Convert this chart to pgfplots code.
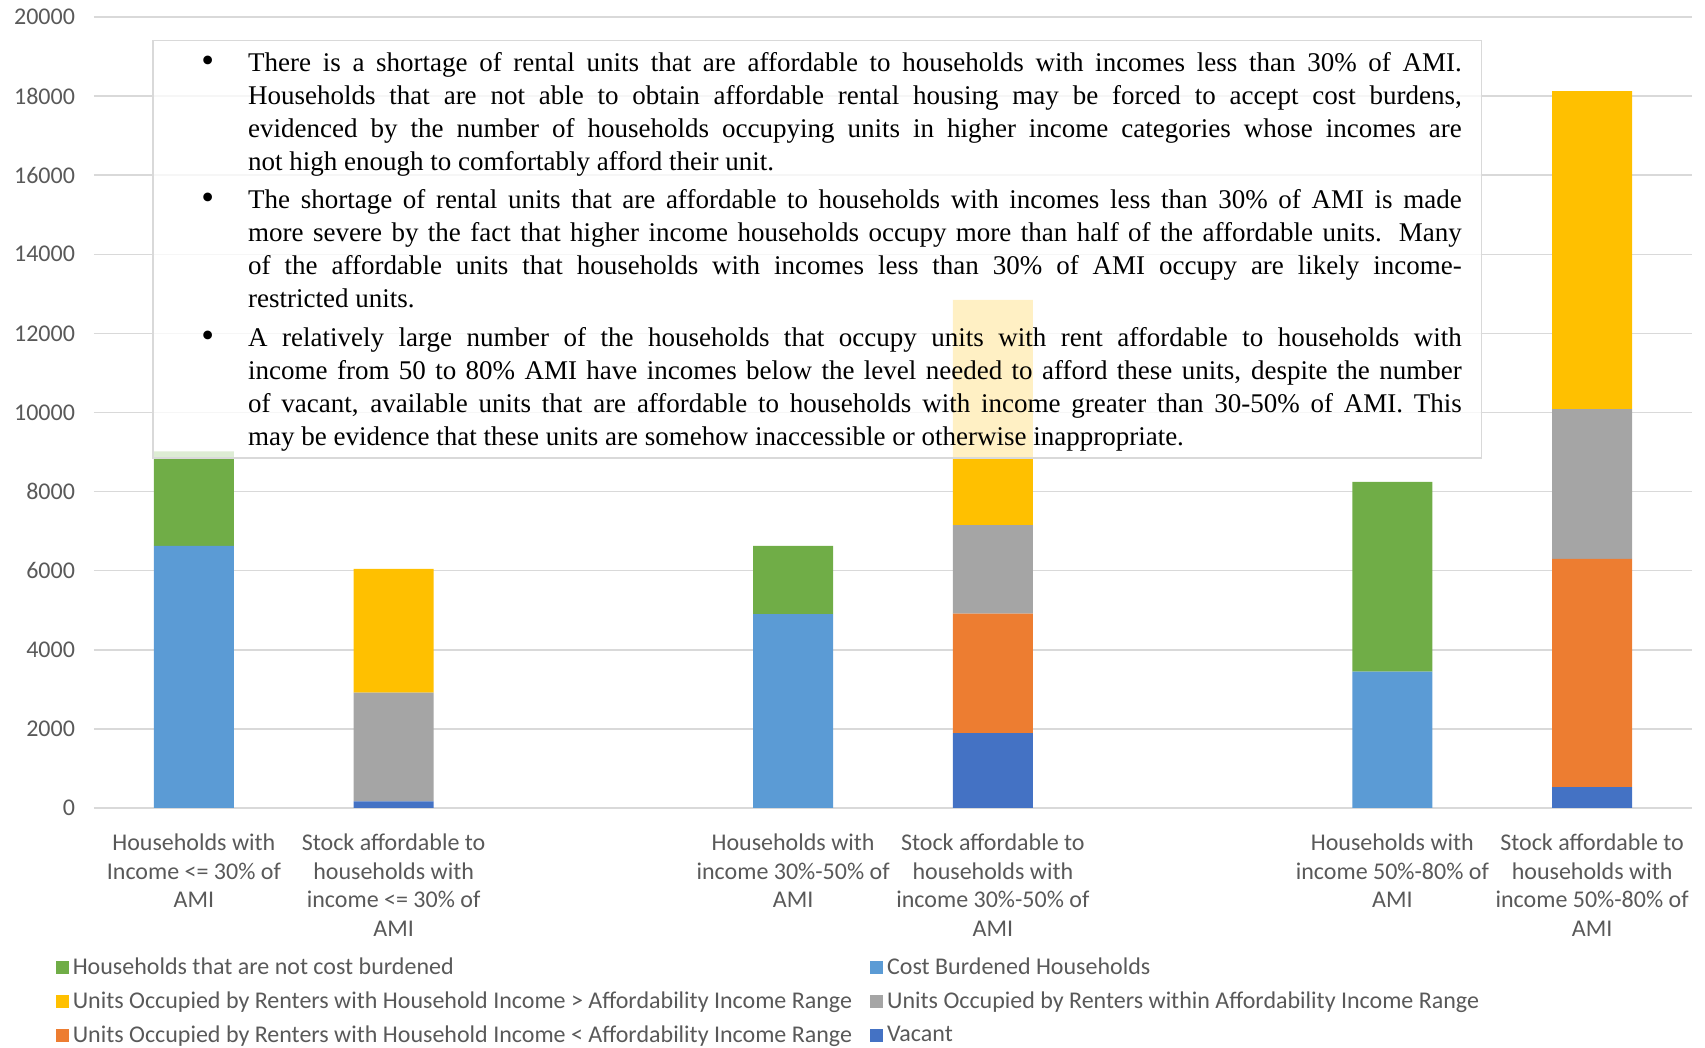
\documentclass[border=0pt]{standalone}
\usepackage{fontspec}
\setmainfont{Carlito}
\newfontfamily\boxfont{Liberation Serif}
\usepackage{pgfplots}
\pgfplotsset{compat=1.18}
\usepackage{pgfplotstable}

\definecolor{cVac}{HTML}{4472C4}
\definecolor{cLow}{HTML}{ED7D31}
\definecolor{cWith}{HTML}{A5A5A5}
\definecolor{cHigh}{HTML}{FFC000}
\definecolor{cBurd}{HTML}{5B9BD5}
\definecolor{cNotB}{HTML}{70AD47}
\definecolor{txtgray}{HTML}{595959}
\definecolor{gridgray}{HTML}{D9D9D9}

\pgfplotstableread{
x vac low within high burd notb
0 0    0    0    0    6630 2390
1 170  0    2745 3130 0    0
3 0    0    0    0    4900 1730
4 1895 3020 2235 5700 0    0
6 0    0    0    0    3445 4800
7 530  5770 3785 8040 0    0
}\datatable

\newcommand\bul{\leavevmode\llap{\raisebox{-0.5pt}{\scalebox{1.35}{\textbullet}}\hspace{17pt}}}

\begin{document}
\begin{tikzpicture}
\begin{axis}[
  at={(0,0)}, anchor=south west,
  width=799pt, height=395.5pt, scale only axis,
  xmin=-0.5, xmax=7.5, ymin=0, ymax=20000,
  ybar stacked, bar width=40pt,
  xtick={0,1,3,4,6,7},
  xticklabels={{Households with\\Income <= 30\% of\\AMI},
               {Stock affordable to\\households with\\income <= 30\% of\\AMI},
               {Households with\\income 30\%-50\% of\\AMI},
               {Stock affordable to\\households with\\income 30\%-50\% of\\AMI},
               {Households with\\income 50\%-80\% of\\AMI},
               {Stock affordable to\\households with\\income 50\%-80\% of\\AMI}},
  xticklabel style={align=center, font=\fontsize{12}{14.4}\selectfont, text=txtgray, yshift=-9.3pt},
  ytick={0,2000,...,20000},
  scaled y ticks=false,
  yticklabel style={font=\fontsize{12}{14.4}\selectfont, text=txtgray, xshift=-6pt,
     /pgf/number format/assume math mode=true, /pgf/number format/1000 sep={}},
  ymajorgrids, grid style={draw=gridgray, line width=0.75pt},
  axis line style={draw=none},
  major tick length=0pt,
  reverse legend,
  legend columns=2,
  legend style={at={(0,0)}, anchor=north west, xshift=-19.3pt, yshift=-72.7pt,
     draw=none, fill=none, font=\fontsize{12}{14.4}\selectfont, text=txtgray,
     row sep=3.2pt, inner sep=0pt,
     /tikz/every even column/.append style={column sep=7pt}},
  legend cell align=left,
  legend image code/.code={\fill[#1] (0pt,-3.25pt) rectangle (6.5pt,3.25pt);},
]
\addplot[fill=cVac, draw=none] table[x=x,y=vac] {\datatable};
\addplot[fill=cLow, draw=none] table[x=x,y=low] {\datatable};
\addplot[fill=cWith, draw=none] table[x=x,y=within] {\datatable};
\addplot[fill=cHigh, draw=none] table[x=x,y=high] {\datatable};
\addplot[fill=cBurd, draw=none] table[x=x,y=burd] {\datatable};
\addplot[fill=cNotB, draw=none] table[x=x,y=notb] {\datatable};
\legend{Vacant,
 Units Occupied by Renters with Household Income < Affordability Income Range,
 Units Occupied by Renters within Affordability Income Range,
 Units Occupied by Renters with Household Income > Affordability Income Range,
 Cost Burdened Households,
 Households that are not cost burdened}
\coordinate (boxsw) at (axis cs:-0.205,8850);
\coordinate (boxne) at (axis cs:6.446,19410);
\coordinate (txtanchor) at (axis cs:0.27,20000);
\end{axis}
\draw[draw=gridgray, line width=0.75pt, fill=white, fill opacity=0.77]
  (boxsw) rectangle (boxne);
\node[anchor=north west, inner sep=0pt, text width=606.75pt, align=justify, text=black]
  at ([yshift=-17.5pt]txtanchor)
  {\boxfont\fontsize{13.5}{16.5}\selectfont\parindent=0pt\tolerance=9999\hyphenpenalty=10000\hbadness=10000\parskip=2.7pt
  \bul There is a shortage of rental units that are affordable to households with incomes less than 30\% of AMI.\linebreak
  Households that are not able to obtain affordable rental housing may be forced to accept cost burdens,\linebreak
  evidenced by the number of households occupying units in higher income categories whose incomes are\linebreak
  not high enough to comfortably afford their unit.\par
  \bul The shortage of rental units that are affordable to households with incomes less than 30\% of AMI is made\linebreak
  more severe by the fact that higher income households occupy more than half of the affordable units. Many\linebreak
  of the affordable units that households with incomes less than 30\% of AMI occupy are likely income-\linebreak
  restricted units.\par
  \bul A relatively large number of the households that occupy units with rent affordable to households with\linebreak
  income from 50 to 80\% AMI have incomes below the level needed to afford these units, despite the number\linebreak
  of vacant, available units that are affordable to households with income greater than 30-50\% of AMI. This\linebreak
  may be evidence that these units are somehow inaccessible or otherwise inappropriate.\par};
\pgfresetboundingbox
\path (-47pt,-120pt) rectangle (805.5pt,404pt);
\end{tikzpicture}
\end{document}
